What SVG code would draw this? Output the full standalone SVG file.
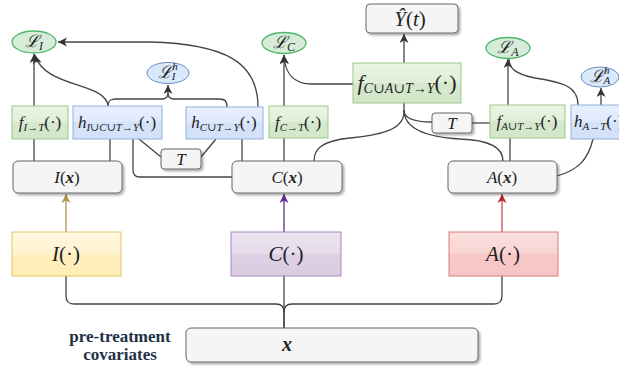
<svg xmlns="http://www.w3.org/2000/svg" width="619" height="366" viewBox="0 0 619 366">
<defs>
<linearGradient id="gGreen" x1="0" y1="0" x2="0" y2="1"><stop offset="0" stop-color="#eaf5e4"/><stop offset="0.5" stop-color="#e0efd9"/><stop offset="0.5" stop-color="#d5e8cd"/><stop offset="1" stop-color="#d2e7ca"/></linearGradient>
<linearGradient id="gBlue" x1="0" y1="0" x2="0" y2="1"><stop offset="0" stop-color="#e8f0fd"/><stop offset="0.5" stop-color="#dfe9fc"/><stop offset="0.5" stop-color="#d5e3fa"/><stop offset="1" stop-color="#d2e1f9"/></linearGradient>
<linearGradient id="gYellow" x1="0" y1="0" x2="0" y2="1"><stop offset="0" stop-color="#fff8e0"/><stop offset="0.5" stop-color="#fff3cf"/><stop offset="0.5" stop-color="#fff0bf"/><stop offset="1" stop-color="#ffedb5"/></linearGradient>
<linearGradient id="gPurple" x1="0" y1="0" x2="0" y2="1"><stop offset="0" stop-color="#ede5f1"/><stop offset="0.5" stop-color="#e5dbea"/><stop offset="0.5" stop-color="#ddd0e4"/><stop offset="1" stop-color="#dacde2"/></linearGradient>
<linearGradient id="gRed" x1="0" y1="0" x2="0" y2="1"><stop offset="0" stop-color="#fbe0df"/><stop offset="0.5" stop-color="#f9d4d3"/><stop offset="0.5" stop-color="#f6c9c8"/><stop offset="1" stop-color="#f5c5c4"/></linearGradient>
<filter id="sh" x="-10%" y="-10%" width="130%" height="140%"><feDropShadow dx="2" dy="2" stdDeviation="1" flood-color="#000" flood-opacity="0.3"/></filter>
<marker id="ak" markerUnits="userSpaceOnUse" markerWidth="10" markerHeight="10" refX="9" refY="4.5" orient="auto"><path d="M0,0 L9,4.5 L0,9 L2.5,4.5 z" fill="#333"/></marker>
<marker id="ay" markerUnits="userSpaceOnUse" markerWidth="10" markerHeight="10" refX="9" refY="4.5" orient="auto"><path d="M0,0 L9,4.5 L0,9 L2.5,4.5 z" fill="#b29449"/></marker>
<marker id="ap" markerUnits="userSpaceOnUse" markerWidth="10" markerHeight="10" refX="9" refY="4.5" orient="auto"><path d="M0,0 L9,4.5 L0,9 L2.5,4.5 z" fill="#5b2c91"/></marker>
<marker id="ar" markerUnits="userSpaceOnUse" markerWidth="10" markerHeight="10" refX="9" refY="4.5" orient="auto"><path d="M0,0 L9,4.5 L0,9 L2.5,4.5 z" fill="#b8262a"/></marker>
<style>
.g{fill:url(#gGreen);stroke:#9cc78a;stroke-width:1}
.b{fill:url(#gBlue);stroke:#8fb0dc;stroke-width:1}
.n{fill:#f5f5f5;stroke:#666;stroke-width:1;filter:url(#sh)}
.eg{fill:#d7ecd8;stroke:#4cb86a;stroke-width:1.3}
.eb{fill:#dae8fc;stroke:#6c8ebf;stroke-width:1}
.m{font-family:"Liberation Serif","DejaVu Serif",serif;font-style:italic;fill:#222;text-anchor:middle}
.u{font-style:normal}
.e{fill:none;stroke:#444;stroke-width:1.3}
.lab{font-family:"Liberation Serif","DejaVu Serif",serif;font-weight:bold;font-size:17px;fill:#1d3147;text-anchor:middle}
</style>
</defs>

<g id="connectors">
<path class="e" d="M34,106 V54" marker-end="url(#ak)"/>
<path class="e" d="M34,161 V139"/>
<path class="e" d="M108,106 C106,82 44,88 35,55" marker-end="url(#ak)"/>
<path class="e" d="M108,106 C108,101 110,99 116,99 H162 Q168,99 168,93 V85" marker-end="url(#ak)"/>
<path class="e" d="M227,107 C227,101 225,99 219,99 H174 Q168,99 168,93"/>
<path class="e" d="M258,107 C258,62 225,44 150,42 H58" marker-end="url(#ak)"/>
<path class="e" d="M110,139 V161"/>
<path class="e" d="M133,139 V170 Q133,177 140,177 H232"/>
<path class="e" d="M139,139 L161,157"/>
<path class="e" d="M201,157 L216,139"/>
<path class="e" d="M242,139 V161"/>
<path class="e" d="M284,161 V138"/>
<path class="e" d="M284,106 V55" marker-end="url(#ak)"/>
<path class="e" d="M353,84 H312 C294,84 285,75 284,55" marker-end="url(#ak)"/>
<path class="e" d="M404,63 V34" marker-end="url(#ak)"/>
<path class="e" d="M404,103 V112 C404,130 380,135 350,138 C320,141 314,150 314,161"/>
<path class="e" d="M404,110 C404,120 418,122 432,122"/>
<path class="e" d="M404,110 C404,128 425,137 460,139 C490,140 503,148 503,161"/>
<path class="e" d="M472,123 H490"/>
<path class="e" d="M510,161 V138"/>
<path class="e" d="M508,105 V59" marker-end="url(#ak)"/>
<path class="e" d="M578,105 C578,85 560,82 535,78 C515,74 509,68 509,59"/>
<path class="e" d="M601,105 V88" marker-end="url(#ak)"/>
<path class="e" d="M557,176 C578,170 588,160 593,139"/>
<path fill="none" stroke="#b29449" stroke-width="1.3" d="M66,232 V194" marker-end="url(#ay)"/>
<path fill="none" stroke="#5b2c91" stroke-width="1.3" d="M284,232 V194" marker-end="url(#ap)"/>
<path fill="none" stroke="#c0504d" stroke-width="1.3" d="M502,232 V194" marker-end="url(#ar)"/>
<path class="e" d="M66,276 V296 Q66,304 74,304 H276 Q284,304 284,312 V328"/>
<path class="e" d="M502,276 V296 Q502,304 494,304 H292 Q284,304 284,312"/>
<path class="e" d="M284,276 V328"/>
</g>

<g id="L_I"><ellipse class="eg" cx="34" cy="42" rx="22" ry="11"/><text class="m" x="34" y="47" font-size="17">ℒ<tspan font-size="12" dy="3">I</tspan></text></g>
<g id="L_Ih"><ellipse class="eb" cx="168" cy="73" rx="21" ry="10.5"/><text class="m" x="168" y="78" font-size="17">ℒ<tspan font-size="11" dy="-8">h</tspan><tspan font-size="11" dx="-6" dy="10">I</tspan></text></g>
<g id="L_C"><ellipse class="eg" cx="284" cy="43" rx="22" ry="10.5"/><text class="m" x="284" y="48" font-size="17">ℒ<tspan font-size="12" dy="3">C</tspan></text></g>
<g id="L_A"><ellipse class="eg" cx="508" cy="48" rx="22" ry="10.5"/><text class="m" x="508" y="53" font-size="17">ℒ<tspan font-size="12" dy="3">A</tspan></text></g>
<g id="L_Ah"><ellipse class="eb" cx="600" cy="77" rx="19" ry="10"/><text class="m" x="600" y="82" font-size="17">ℒ<tspan font-size="11" dy="-8">h</tspan><tspan font-size="11" dx="-6" dy="10">A</tspan></text></g>

<g id="Yhat"><rect class="n" x="366" y="4" width="92" height="29" rx="4"/><text class="m" x="410" y="26" font-size="21">Ŷ<tspan class="u">(</tspan>t<tspan class="u">)</tspan></text></g>
<g id="f_CAT"><rect class="g" x="353" y="63" width="108" height="40"/><text class="m" x="407" y="90" font-size="22">f<tspan font-size="14" dy="3">C∪A∪T→Y</tspan><tspan class="u" dy="-3">(·)</tspan></text></g>

<g id="f_IT"><rect class="g" x="12" y="106" width="56" height="33"/><text class="m" x="40" y="128" font-size="17">f<tspan font-size="11" dy="3">I→T</tspan><tspan class="u" dy="-3">(·)</tspan></text></g>
<g id="h_ICT"><rect class="b" x="73" y="106" width="89" height="33"/><text class="m" x="117" y="128" font-size="17">h<tspan font-size="11" dy="3">I∪C∪T→Y</tspan><tspan class="u" dy="-3">(·)</tspan></text></g>
<g id="h_CT"><rect class="b" x="186" y="107" width="77" height="32"/><text class="m" x="224" y="128" font-size="17">h<tspan font-size="11" dy="3">C∪T→Y</tspan><tspan class="u" dy="-3">(·)</tspan></text></g>
<g id="f_CT"><rect class="g" x="269" y="106" width="59" height="32"/><text class="m" x="298" y="128" font-size="17">f<tspan font-size="11" dy="3">C→T</tspan><tspan class="u" dy="-3">(·)</tspan></text></g>
<g id="f_AT"><rect class="g" x="490" y="105" width="75" height="33"/><text class="m" x="527" y="127" font-size="17">f<tspan font-size="11" dy="3">A∪T→Y</tspan><tspan class="u" dy="-3">(·)</tspan></text></g>
<g id="h_AT"><rect class="b" x="571" y="105" width="60" height="34"/><text class="m" x="574" y="127" font-size="17" style="text-anchor:start">h<tspan font-size="11" dy="3">A→T</tspan><tspan class="u" dy="-3">(·)</tspan></text></g>

<g id="T1"><rect class="n" x="161" y="149" width="40" height="20" rx="3"/><text class="m" x="181" y="165" font-size="17">T</text></g>
<g id="T2"><rect class="n" x="432" y="113" width="40" height="20" rx="3"/><text class="m" x="452" y="129" font-size="17">T</text></g>

<g id="Ix"><rect class="n" x="13" y="161" width="109" height="32" rx="5"/><text class="m" x="67" y="183" font-size="17">I<tspan class="u">(</tspan><tspan font-weight="bold">x</tspan><tspan class="u">)</tspan></text></g>
<g id="Cx"><rect class="n" x="232" y="161" width="110" height="32" rx="5"/><text class="m" x="287" y="183" font-size="17">C<tspan class="u">(</tspan><tspan font-weight="bold">x</tspan><tspan class="u">)</tspan></text></g>
<g id="Ax"><rect class="n" x="448" y="161" width="109" height="32" rx="5"/><text class="m" x="502" y="183" font-size="17">A<tspan class="u">(</tspan><tspan font-weight="bold">x</tspan><tspan class="u">)</tspan></text></g>

<g id="Idot"><rect x="12" y="232" width="109" height="44" fill="url(#gYellow)" stroke="#e2c56a"/><text class="m" x="66" y="261" font-size="21">I<tspan class="u">(·)</tspan></text></g>
<g id="Cdot"><rect x="231" y="232" width="110" height="44" fill="url(#gPurple)" stroke="#a985bd"/><text class="m" x="286" y="261" font-size="21">C<tspan class="u">(·)</tspan></text></g>
<g id="Adot"><rect x="449" y="232" width="109" height="44" fill="url(#gRed)" stroke="#d77c78"/><text class="m" x="503" y="261" font-size="21">A<tspan class="u">(·)</tspan></text></g>

<g id="xbox"><rect class="n" x="186" y="328" width="292" height="34" rx="5"/><text class="m" x="287" y="351" font-size="20" font-weight="bold">x</text></g>
<g id="label"><text class="lab" x="120" y="342">pre-treatment</text><text class="lab" x="120" y="360">covariates</text></g>
</svg>
